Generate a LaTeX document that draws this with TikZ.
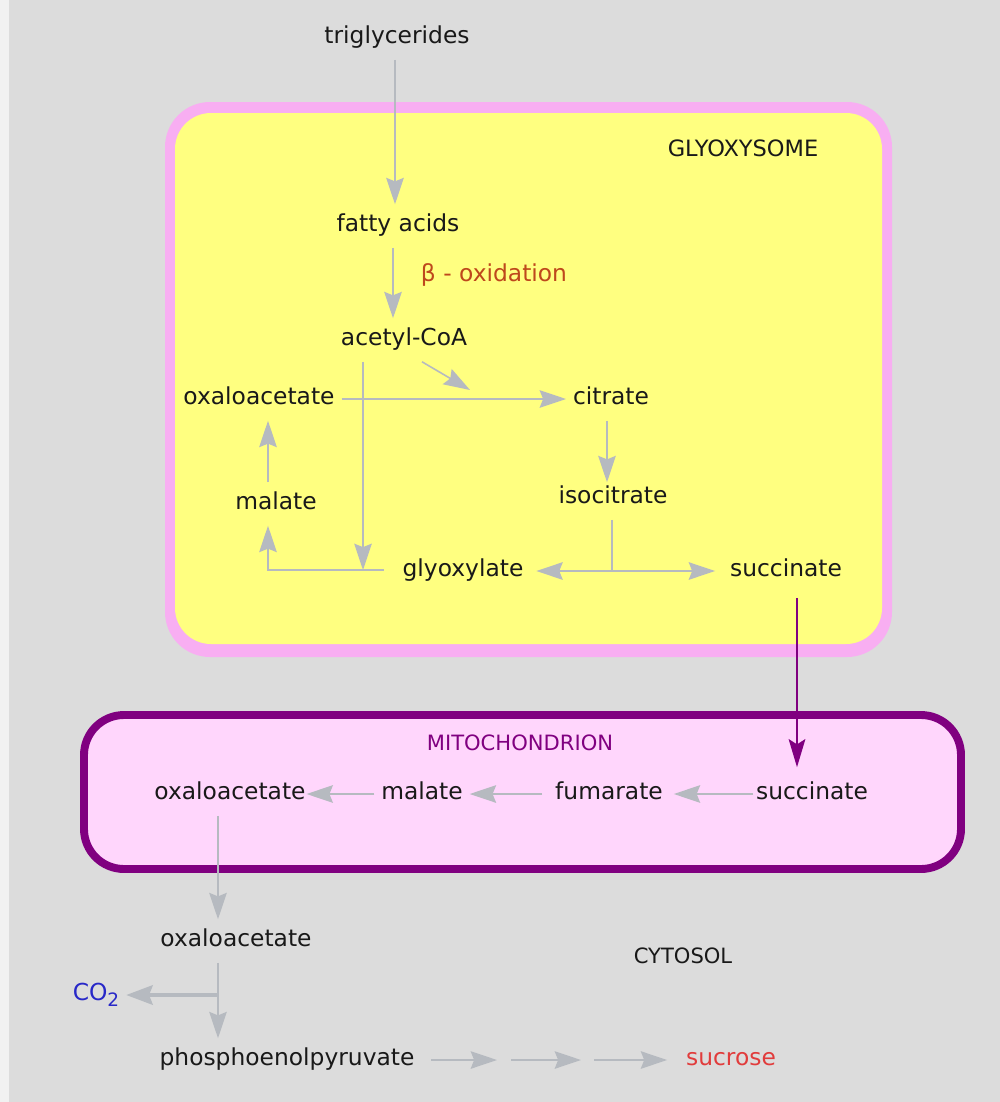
\documentclass[tikz,border=0pt]{standalone}
\usepackage{fontspec}
\setmainfont{DejaVu Sans}
\usetikzlibrary{arrows.meta,calc}
\definecolor{bg}{RGB}{220,220,220}
\definecolor{glypink}{RGB}{248,174,242}
\definecolor{gly}{RGB}{255,255,128}
\definecolor{mitofill}{RGB}{255,214,252}
\definecolor{mitoline}{RGB}{128,0,128}
\definecolor{agray}{RGB}{182,186,192}
\definecolor{betac}{RGB}{190,72,28}
\definecolor{co2c}{RGB}{40,40,200}
\definecolor{sucrc}{RGB}{225,60,60}
\definecolor{txt}{RGB}{25,25,25}
\begin{document}
\begin{tikzpicture}[x=0.02cm,y=-0.02cm,
  lbl/.style={inner sep=0pt, outer xsep=4pt, outer ysep=6pt, text height=9.6pt, text depth=3.2pt, text=txt, font=\fontsize{13.3}{16}\selectfont},
  comp/.style={inner sep=0pt, text=txt, font=\fontsize{12.8}{15}\selectfont},
  arr/.style={draw=agray, line width=0.9pt, -{Stealth[length=15pt,width=10pt,inset=2pt]}},
  plain/.style={draw=agray, line width=0.9pt},
  thickarr/.style={draw=agray, line width=2.2pt, -{Stealth[length=15pt,width=11pt,inset=2pt]}},
  purarr/.style={draw=mitoline, line width=1.2pt, -{Stealth[length=16pt,width=9.5pt,inset=3pt]}}
]
% background and frame
\useasboundingbox (0,0) rectangle (1000,1102);
\fill[bg] (0,0) rectangle (1000,1102);
\fill[white!60!bg] (0,0) rectangle (9,1102);

% glyoxysome
\fill[glypink, rounded corners=0.9cm] (165,102) rectangle (892,657);
\fill[gly, rounded corners=0.72cm] (175,113) rectangle (882,644);

% mitochondrion
\draw[draw=mitoline, fill=mitofill, line width=4.5pt, rounded corners=0.8cm] (84,715) rectangle (961,869);

% compartment labels
\node[comp] (glylabel) at (743,148) {GLYOXYSOME};
\node[comp, text=mitoline, font=\fontsize{12}{14}\selectfont] (mitolabel) at (520,743) {MITOCHONDRION};
\node[comp, font=\fontsize{12}{14}\selectfont] (cytlabel) at (683,956) {CYTOSOL};

% metabolites
\node[lbl] (trig) at (397,38) {triglycerides};
\node[lbl] (fatty) at (398,226) {fatty acids};
\node[lbl, text=betac] (beta) at (494,276) {β - oxidation};
\node[lbl] (acetyl) at (404,340) {acetyl-CoA};
\node[lbl] (oxa1) at (259,399) {oxaloacetate};
\node[lbl] (citrate) at (611,399) {citrate};
\node[lbl] (isocit) at (613,498) {isocitrate};
\node[lbl] (malate1) at (276,504) {malate};
\node[lbl] (glyox) at (463,571) {glyoxylate};
\node[lbl] (succ1) at (786,571) {succinate};

\node[lbl] (oxa2) at (230,794) {oxaloacetate};
\node[lbl] (malate2) at (422,794) {malate};
\node[lbl] (fum) at (609,794) {fumarate};
\node[lbl] (succ2) at (812,794) {succinate};

\node[lbl] (oxa3) at (236,941) {oxaloacetate};
\node[lbl, text=co2c] (co2) at (96,995) {CO\raisebox{-0.45ex}{\fontsize{10.5}{12}\selectfont 2}};
\node[lbl] (pep) at (287,1060) {phosphoenolpyruvate};
\node[lbl, text=sucrc] (sucrose) at (731,1060) {sucrose};

% glyoxysome connectors
\draw[arr] (trig.south -| 395,0) -- (fatty.north -| 395,0);
\draw[arr] (fatty.south -| 393,0) -- (acetyl.north -| 393,0);
\coordinate (diagend) at (470,390);
\draw[arr] (acetyl.south -| 422,0) -- (diagend);
\draw[arr] (oxa1.east) -- (citrate.west |- oxa1.east);
\coordinate (glyj) at (363,570);
\draw[arr] (acetyl.south -| 363,0) -- (glyj);
\draw[arr] (citrate.south -| 607,0) -- ($(isocit.north -| 607,0)+(0,6)$);
\coordinate (br) at (612,571);
\draw[plain] (isocit.south -| 612,0) -- (br);
\draw[arr] (br) -- ($(glyox.east)+(6,0)$);
\draw[arr] (br) -- ($(succ1.west)+(-8,0)$);
\draw[arr] ($(glyox.west)+(-12,-1)$) -| (malate1.south -| 268,0);
\draw[arr] (malate1.north -| 268,0) -- (oxa1.south -| 268,0);

% transfer to mitochondrion
\draw[purarr] ($(succ1.south -| 797,0)+(0,5)$) -- ($(succ2.north -| 797,0)+(0,-5)$);

% mitochondrion connectors
\draw[arr] ($(succ2.west)+(4,0)$) -- ($(fum.east)+(4,0)$);
\draw[arr] ($(fum.west)+(-6,0)$) -- (malate2.east);
\draw[arr] (malate2.west) -- ($(oxa2.east)+(-6,0)$);

% cytosol connectors
\draw[arr] (oxa2.south -| 218,0) -- (oxa3.north -| 218,0);
\draw[arr] (oxa3.south -| 218,0) -- (pep.north -| 218,0);
\draw[thickarr] (co2.east -| 218,0) -- (co2.east);
\coordinate (k1) at (497,1060);
\coordinate (k2) at (511,1060);
\coordinate (k3) at (581,1060);
\coordinate (k4) at (594,1060);
\draw[arr] ($(pep.east)+(10,0)$) -- (k1);
\draw[arr] (k2) -- (k3);
\draw[arr] (k4) -- ($(sucrose.west)+(-12,0)$);
\end{tikzpicture}
\end{document}
